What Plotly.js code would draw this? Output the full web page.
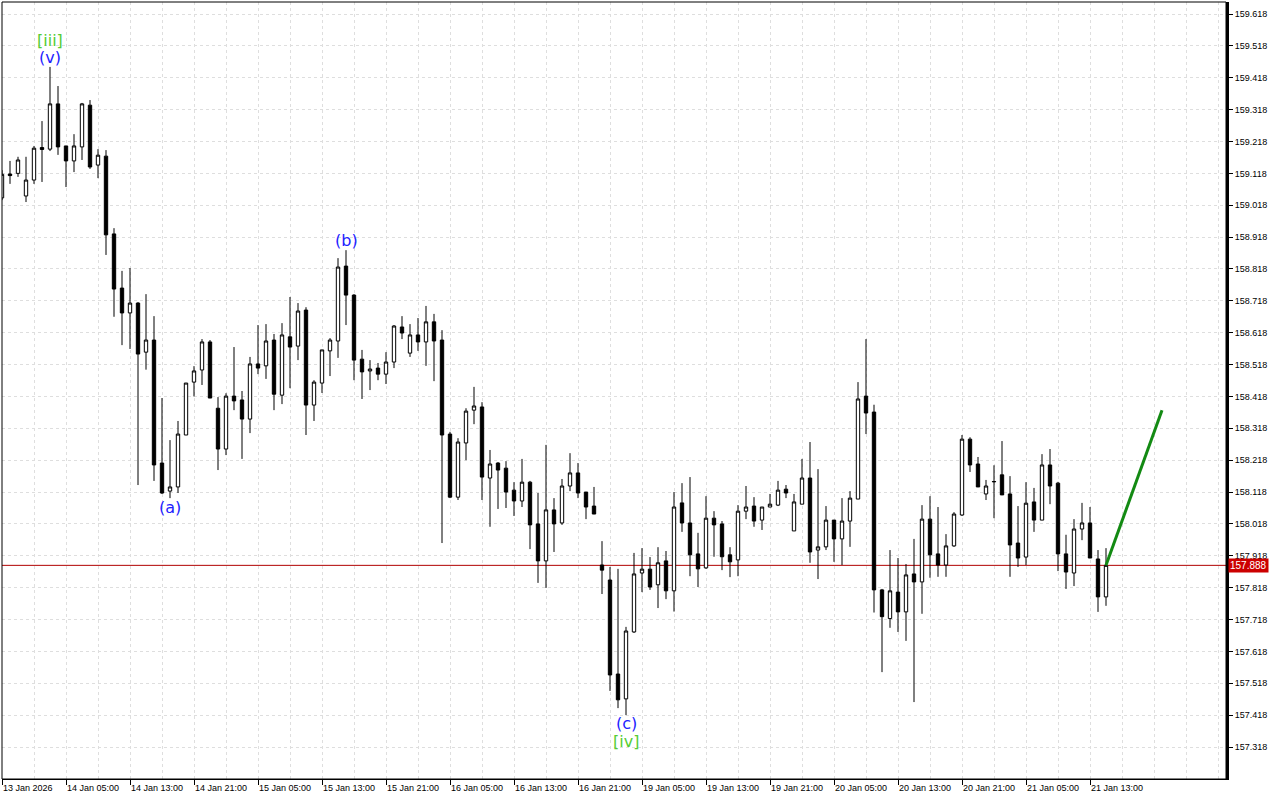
<!DOCTYPE html>
<html>
<head>
<meta charset="utf-8">
<script src="https://cdn.plot.ly/plotly-3.0.1.min.js"></script>
<style>
  html, body { margin: 0; padding: 0; background: #ffffff; }
  #chart { width: 1280px; height: 800px; }
</style>
</head>
<body>
<div id="chart"></div>
<script>
// ---- Data (USDJPY-like H1 bars) ----
const open = [
159.041,159.116,159.118,159.047,159.097,159.199,159.194,159.336,159.204,159.157,
159.201,159.332,159.144,159.172,158.928,158.758,158.680,158.711,158.557,158.595,
158.209,158.121,158.134,158.297,158.463,158.501,158.589,158.381,158.253,158.419,
158.407,158.347,158.520,158.514,158.595,158.422,158.605,158.576,158.689,158.391,
158.460,158.561,158.592,158.827,158.736,158.535,158.498,158.507,158.488,158.526,
158.636,158.554,158.611,158.589,158.652,158.595,158.300,158.102,158.272,158.375,
158.385,158.162,158.209,158.193,158.124,158.090,158.149,158.018,157.902,158.062,
158.021,158.137,158.178,158.118,158.074,157.889,157.842,157.547,157.469,157.679,
157.864,157.876,157.827,157.902,157.808,158.084,158.021,157.924,157.880,158.036,
158.018,157.921,157.905,158.058,158.074,158.030,158.071,158.077,158.127,157.996,
158.080,158.162,157.936,157.946,158.030,157.971,158.027,158.096,158.419,158.369,
157.811,157.721,157.804,157.742,157.861,157.836,158.033,157.924,157.889,157.949,
158.046,158.284,158.206,158.112,158.150,158.172,158.112,157.958,157.914,158.087,
158.030,158.203,158.146,157.924,157.864,158.002,158.021,157.908,157.789
];
const high = [
159.128,159.157,159.170,159.170,159.204,159.282,159.452,159.392,159.204,159.241,
159.339,159.348,159.194,159.191,158.946,158.812,158.821,158.714,158.739,158.670,
158.413,158.281,158.341,158.460,158.513,158.598,158.595,158.416,158.428,158.573,
158.435,158.542,158.642,158.645,158.614,158.648,158.730,158.711,158.698,158.469,
158.564,158.601,158.852,158.877,158.739,158.564,158.532,158.523,158.557,158.642,
158.670,158.645,158.664,158.702,158.677,158.626,158.307,158.287,158.381,158.448,
158.400,158.250,158.212,158.215,158.149,158.222,158.153,158.115,158.266,158.099,
158.159,158.240,158.209,158.118,158.134,157.964,157.883,157.877,157.695,157.927,
157.942,157.914,157.945,157.933,158.118,158.146,158.165,157.990,158.105,158.058,
158.027,157.945,158.077,158.137,158.102,158.071,158.112,158.153,158.140,158.112,
158.222,158.275,158.190,158.074,158.030,158.099,158.121,158.463,158.598,158.392,
157.814,157.936,157.911,157.892,157.971,158.077,158.105,158.071,157.986,158.055,
158.297,158.290,158.228,158.156,158.202,158.278,158.168,158.074,158.149,158.131,
158.237,158.253,158.150,157.984,158.033,158.084,158.071,157.936,157.942
];
const low = [
159.034,159.085,159.107,159.028,159.085,159.091,159.188,159.176,159.075,159.122,
159.160,159.132,159.103,158.862,158.668,158.579,158.567,158.140,158.502,158.153,
158.112,158.099,158.115,158.297,158.418,158.454,158.413,158.187,158.234,158.375,
158.222,158.303,158.488,158.473,158.375,158.394,158.444,158.532,158.297,158.341,
158.429,158.482,158.539,158.642,158.469,158.410,158.438,158.469,158.457,158.507,
158.598,158.542,158.561,158.514,158.466,157.958,158.099,158.093,158.218,158.331,
158.093,158.009,158.065,158.068,158.043,158.071,157.939,157.833,157.817,157.930,
158.015,158.121,158.099,158.033,158.049,157.798,157.494,157.440,157.418,157.676,
157.804,157.811,157.754,157.782,157.743,157.993,157.854,157.820,157.877,157.915,
157.873,157.851,157.854,158.033,158.009,157.999,158.071,158.074,158.099,157.996,
158.080,157.896,157.845,157.936,157.899,157.889,157.946,158.096,158.300,157.740,
157.553,157.692,157.679,157.651,157.459,157.736,157.849,157.852,157.852,157.946,
158.043,158.181,158.134,158.093,158.036,158.109,157.852,157.883,157.889,157.993,
158.030,158.080,157.870,157.814,157.823,157.967,157.911,157.742,157.761
];
const close = [
159.115,159.111,159.160,159.097,159.197,159.193,159.336,159.201,159.157,159.204,
159.336,159.138,159.175,158.925,158.755,158.680,158.711,158.551,158.595,158.203,
158.115,158.134,158.300,158.460,158.498,158.589,158.413,158.253,158.419,158.404,
158.347,158.520,158.507,158.592,158.425,158.611,158.573,158.686,158.391,158.463,
158.564,158.595,158.824,158.736,158.532,158.495,158.504,158.488,158.526,158.639,
158.617,158.611,158.589,158.652,158.592,158.297,158.102,158.275,158.372,158.388,
158.165,158.206,158.187,158.118,158.090,158.149,158.015,157.902,158.062,158.018,
158.137,158.178,158.115,158.071,158.049,157.873,157.544,157.466,157.682,157.861,
157.876,157.820,157.896,157.808,158.071,158.021,157.921,157.877,158.036,158.015,
157.915,157.899,158.058,158.071,158.027,158.071,158.080,158.124,158.115,158.087,
158.162,157.930,157.946,158.030,157.971,158.027,158.099,158.410,158.366,157.811,
157.727,157.808,157.742,157.858,157.836,158.033,157.921,157.889,157.949,158.049,
158.284,158.203,158.134,158.137,158.151,158.109,157.952,157.911,158.083,158.030,
158.203,158.137,157.924,157.867,158.002,158.021,157.911,157.789,157.888
];

// time axis labels (every 8th bar)
const timeLabels = [
"13 Jan 2026","14 Jan 05:00","14 Jan 13:00","14 Jan 21:00","15 Jan 05:00",
"15 Jan 13:00","15 Jan 21:00","16 Jan 05:00","16 Jan 13:00","16 Jan 21:00",
"19 Jan 05:00","19 Jan 13:00","19 Jan 21:00","20 Jan 05:00","20 Jan 13:00",
"20 Jan 21:00","21 Jan 05:00","21 Jan 13:00"
];
const timeLabelBars = [0,8,16,24,32,40,48,56,64,72,80,88,96,104,112,120,128,136];

// price axis labels
const priceLabels = [157.318,157.418,157.518,157.618,157.718,157.818,157.918,158.018,
  158.118,158.218,158.318,158.418,158.518,158.618,158.718,158.818,158.918,159.018,
  159.118,159.218,159.318,159.418,159.518,159.618];

const currentPrice = 157.888;

// forecast arrow
const forecastBars = [138, 145];
const forecastPrices = [157.888, 158.375];

// Elliott wave labels
const waveLabels = ["[iii]", "(v)", "(a)", "(b)", "(c)", "[iv]"];
const waveBars   = [6, 6, 21, 43, 78, 78];
const wavePrices = [159.536, 159.480, 158.071, 158.906, 157.393, 157.334];

// ---- Chart ----
const bars = open.map((_, i) => i);
const FONT = "Liberation Sans, Arial, sans-serif";

const candle = {
  type: "candlestick",
  x: bars, open: open, high: high, low: low, close: close,
  increasing: { line: { color: "#000000", width: 1 }, fillcolor: "#ffffff" },
  decreasing: { line: { color: "#000000", width: 1 }, fillcolor: "#000000" },
  whiskerwidth: 0,
  hoverinfo: "skip",
  showlegend: false
};

const forecast = {
  type: "scatter", mode: "lines",
  x: forecastBars, y: forecastPrices,
  line: { color: "#138a13", width: 3 },
  hoverinfo: "skip", showlegend: false
};

const annotations = waveLabels.map((t, k) => ({
  x: waveBars[k], y: wavePrices[k], xref: "x", yref: "y",
  text: t, showarrow: false, xanchor: "center", yanchor: "middle",
  font: { family: "DejaVu Sans, sans-serif", size: 16,
          color: t.charAt(0) === "[" ? "#55cc33" : "#2222ff" }
}));

annotations.push({
  x: 1, xref: "paper", xshift: 2, y: currentPrice, yref: "y",
  text: currentPrice.toFixed(3), showarrow: false,
  xanchor: "left", yanchor: "middle",
  bgcolor: "#cc0000", borderpad: 1,
  font: { family: FONT, size: 10, color: "#ffffff" }
});

const layout = {
  width: 1280, height: 800,
  margin: { l: 2, r: 54, t: 2, b: 21, pad: 0 },
  paper_bgcolor: "#ffffff", plot_bgcolor: "#ffffff",
  boxgap: 0.4,
  showlegend: false,
  dragmode: false,
  xaxis: {
    type: "linear",
    range: [0, 153],
    rangeslider: { visible: false },
    tickmode: "array",
    tickvals: timeLabelBars,
    ticktext: timeLabels,
    ticks: "outside", ticklen: 5, tickwidth: 1, tickcolor: "#000000",
    ticklabelposition: "outside right",
    tickfont: { family: FONT, size: 9, color: "#000000" },
    showgrid: true, gridcolor: "#dedede", griddash: "3px,3px", gridwidth: 1,
    minor: { tickmode: "linear", tick0: 0, dtick: 4, showgrid: true,
             gridcolor: "#dedede", griddash: "3px,3px", ticks: "" },
    showline: true, linecolor: "#000000", linewidth: 1,
    zeroline: false, fixedrange: true
  },
  yaxis: {
    side: "right",
    range: [157.2176, 159.6557],
    tickmode: "array",
    tickvals: priceLabels,
    ticktext: priceLabels.map(v => v.toFixed(3)),
    ticks: "outside", ticklen: 4, tickwidth: 1, tickcolor: "#000000",
    tickfont: { family: FONT, size: 9, color: "#000000" },
    showgrid: true, gridcolor: "#dedede", griddash: "3px,3px", gridwidth: 1,
    showline: true, linecolor: "#000000", linewidth: 3,
    zeroline: false, fixedrange: true
  },
  shapes: [
    { type: "rect", xref: "paper", yref: "paper", x0: 0, x1: 1, y0: 0, y1: 1,
      line: { color: "#000000", width: 1 }, layer: "above" },
    { type: "line", xref: "paper", yref: "y", x0: 0, x1: 1,
      y0: currentPrice, y1: currentPrice,
      line: { color: "#b00000", width: 1 }, layer: "below" }
  ],
  annotations: annotations
};

Plotly.newPlot("chart", [candle, forecast], layout, { staticPlot: true, displayModeBar: false });
</script>
</body>
</html>
